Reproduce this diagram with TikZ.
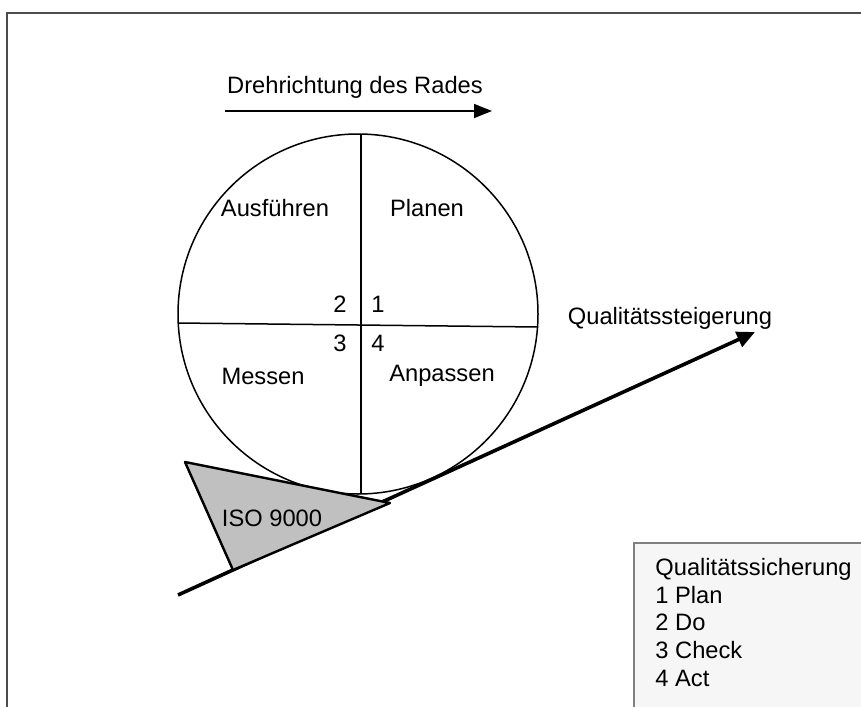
\documentclass[tikz,border=0pt]{standalone}
\usepackage{fontspec}
\setmainfont{Liberation Sans}
\usetikzlibrary{arrows.meta}
\definecolor{wedgegray}{RGB}{192,192,192}
\definecolor{legendfill}{RGB}{246,246,246}
\tikzset{
  lbl/.style={inner sep=0pt, font=\fontsize{11.85}{13.9}\selectfont},
  thin line/.style={line width=0.75pt},
  ramp/.style={line width=1.8pt, -{Triangle[length=9pt,width=8pt]}}
}
\begin{document}
\begin{tikzpicture}[x=0.5pt,y=-0.5pt]
				\useasboundingbox (0,0) rectangle (861,706);
				\draw[line width=1.1pt, gray!60!black] (7,720)--(7,13)--(875,13);
				\draw[thin line, fill=legendfill, draw=gray] (634,720)--(634,543)--(875,543)--(875,720);
				% Rad
				\draw[thin line] (358,314) circle (180);
				\draw[thin line] (361,135)--(361,494);
				\draw[thin line] (178,323)--(538,327);
				\node[lbl] (ausf) at (275,208) {Ausführen};
				\node[lbl] (plan) at (427,208) {Planen};
				\node[lbl] (mess) at (263,376) {Messen};
				\node[lbl] (anp) at (442,376) {Anpassen};
				\node[lbl] (n2) at (340,304) {2};
				\node[lbl] (n1) at (378,304) {1};
				\node[lbl] (n3) at (340,343) {3};
				\node[lbl] (n4) at (378,343) {4};
				% Drehrichtung
				\node[lbl] (dreh) at (355,87) {Drehrichtung des Rades};
				\coordinate (d1) at (225,111);
				\coordinate (d2) at (492,111);
				\draw[thin line, -{Triangle[length=9pt,width=7pt]}] (d1)--(d2);
				% Ebene
				\coordinate (r1) at (178,595);
				\coordinate (r2) at (755,332);
				\draw[ramp] (r1)--(r2);
				\node[lbl] (steig) at (670,318) {Qualitätssteigerung};
				% Keil
				\draw[line width=1.2pt, fill=wedgegray, line join=round] (185,462)--(390,503)--(233,570)--cycle;
				\node[lbl] (iso) at (272,518) {ISO 9000};
				% Legende
				\node[lbl, anchor=west, align=left] (leg) at (655,622.5) {Qualitätssicherung\\1 Plan\\2 Do\\3 Check\\4 Act};
			\end{tikzpicture}
\end{document}
